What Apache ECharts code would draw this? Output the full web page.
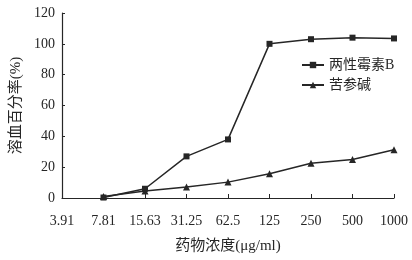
<!DOCTYPE html>
<html><head><meta charset="utf-8">
<script src="https://cdn.jsdelivr.net/npm/echarts@6/dist/echarts.min.js"></script>
<style>html,body{margin:0;padding:0;background:#fff}#c{width:412px;height:260px}</style>
</head><body><div id="c"></div>
<script>
const categories = ['3.91','7.81','15.63','31.25','62.5','125','250','500','1000'];
const amphotericinB = [null, 0.3, 6, 27, 38, 100, 103, 104, 103.5];
const matrine = [null, 1, 4.5, 7.2, 10.3, 15.7, 22.6, 25, 31.3];
const yTicks = [0, 20, 40, 60, 80, 100, 120];

const font = '"Liberation Serif", "Noto Sans CJK SC", serif';
const ink = '#262626';
const chart = echarts.init(document.getElementById('c'));
chart.setOption({
  animation: false,
  backgroundColor: '#fff',
  textStyle: { fontFamily: font, color: ink },
  grid: { left: 62, right: 18, top: 13, bottom: 62 },
  legend: {
    orient: 'vertical', left: 296, top: 53, itemGap: 6, padding: 5,
    itemWidth: 22, itemHeight: 8,
    textStyle: { fontFamily: font, fontSize: 14, color: ink },
    data: ['两性霉素B', '苦参碱']
  },
  xAxis: {
    type: 'category', data: categories, boundaryGap: false,
    name: '药物浓度(μg/ml)', nameLocation: 'middle', nameGap: 41,
    nameTextStyle: { fontFamily: font, fontSize: 15, color: ink },
    axisLine: { lineStyle: { color: ink, width: 1.2 } },
    axisTick: { inside: true, length: 4, lineStyle: { color: ink } },
    axisLabel: { fontFamily: font, fontSize: 14, color: ink, margin: 16 }
  },
  yAxis: {
    type: 'value', min: yTicks[0], max: yTicks[yTicks.length - 1], interval: 20,
    name: '溶血百分率(%)', nameLocation: 'middle', nameGap: 37,
    nameTextStyle: { fontFamily: font, fontSize: 15, color: ink },
    splitLine: { show: false },
    axisLine: { show: true, lineStyle: { color: ink, width: 1.2 } },
    axisTick: { show: true, inside: true, length: 3, lineStyle: { color: ink } },
    axisLabel: { fontFamily: font, fontSize: 14, color: ink, margin: 7 }
  },
  series: [
    { name: '两性霉素B', type: 'line', data: amphotericinB, symbol: 'rect', symbolSize: 6,
      lineStyle: { color: ink, width: 1.5 }, itemStyle: { color: ink } },
    { name: '苦参碱', type: 'line', data: matrine, symbol: 'triangle', symbolSize: 7,
      lineStyle: { color: ink, width: 1.5 }, itemStyle: { color: ink } }
  ]
});
</script></body></html>
